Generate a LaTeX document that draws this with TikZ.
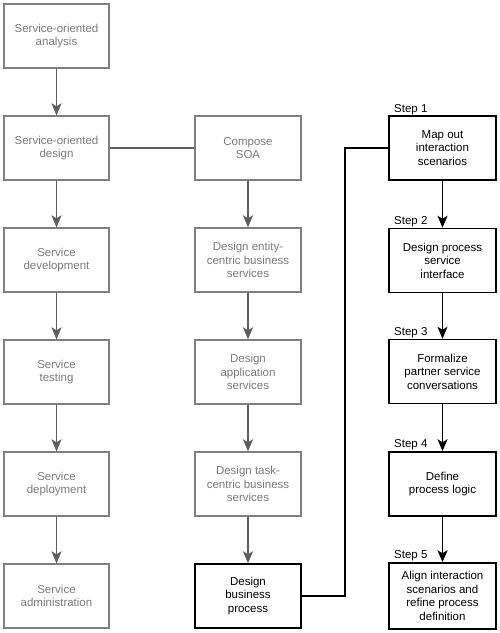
\documentclass[tikz,border=0pt]{standalone}
\usepackage{fontspec}
\setmainfont{Liberation Sans}
\usetikzlibrary{arrows.meta}
\definecolor{gbox}{HTML}{808080}
\definecolor{gtext}{HTML}{7A7A7A}
\definecolor{garrow}{HTML}{5E5E5E}
\tikzset{
  graybox/.style={draw=gbox, line width=1.4pt, text=gtext, minimum width=105pt, minimum height=64pt, inner sep=0pt, align=center, font=\fontsize{11.5pt}{13.6pt}\selectfont},
  blackbox/.style={draw=black, line width=1.5pt, text=black, minimum width=107pt, minimum height=64pt, inner sep=0pt, align=center, font=\fontsize{11.5pt}{13.6pt}\selectfont},
  grayarrow/.style={draw=garrow, line width=1.4pt, -{Stealth[length=12pt, width=10pt, inset=3pt]}},
  blackarrow/.style={draw=black, line width=1.5pt, -{Stealth[length=12pt, width=10pt, inset=3pt]}},
  grayline/.style={draw=garrow, line width=1.4pt},
  blackline/.style={draw=black, line width=1.5pt},
  steplabel/.style={anchor=base west, inner sep=0pt, font=\fontsize{11.5pt}{13.6pt}\selectfont}
}
\begin{document}
\begin{tikzpicture}[x=1pt, y=-1pt]
\useasboundingbox (0,0) rectangle (500,633);
% left column
\node[graybox] (l1) at (56.5,36) {Service-oriented\\analysis};
\node[graybox] (l2) at (56.5,148) {Service-oriented\\design};
\node[graybox] (l3) at (56.5,260) {Service\\development};
\node[graybox] (l4) at (56.5,372) {Service\\testing};
\node[graybox] (l5) at (56.5,484) {Service\\deployment};
\node[graybox] (l6) at (56.5,596) {Service\\administration};
% middle column
\node[graybox, minimum width=106pt] (m1) at (248,148) {Compose\\SOA};
\node[graybox, minimum width=106pt] (m2) at (248,260) {Design entity-\\centric business\\services};
\node[graybox, minimum width=106pt] (m3) at (248,372) {Design\\application\\services};
\node[graybox, minimum width=106pt] (m4) at (248,484) {Design task-\\centric business\\services};
\node[blackbox, minimum width=106pt] (m5) at (248,596) {Design\\business\\process};
% right column
\node[blackbox] (r1) at (442.5,148) {Map out\\interaction\\scenarios};
\node[blackbox] (r2) at (442.5,260.5) {Design process\\service\\interface};
\node[blackbox] (r3) at (442.5,371.5) {Formalize\\partner service\\conversations};
\node[blackbox] (r4) at (442.5,484) {Define\\process logic};
\node[blackbox, minimum height=66pt] (r5) at (442.5,596) {Align interaction\\scenarios and\\refine process\\definition};
% step labels
\node[steplabel] (s1) at (394,112) {Step 1};
\node[steplabel] (s2) at (394,224) {Step 2};
\node[steplabel] (s3) at (394,335) {Step 3};
\node[steplabel] (s4) at (394,447) {Step 4};
\node[steplabel] (s5) at (394,558) {Step 5};
% arrows
\draw[grayarrow] (l1) -- (l2);
\draw[grayarrow] (l2) -- (l3);
\draw[grayarrow] (l3) -- (l4);
\draw[grayarrow] (l4) -- (l5);
\draw[grayarrow] (l5) -- (l6);
\draw[grayline] (l2) -- (m1);
\draw[grayarrow] (m1) -- (m2);
\draw[grayarrow] (m2) -- (m3);
\draw[grayarrow] (m3) -- (m4);
\draw[grayarrow] (m4) -- (m5);
\draw[blackarrow] (r1) -- (r2);
\draw[blackarrow] (r2) -- (r3);
\draw[blackarrow] (r3) -- (r4);
\draw[blackarrow] (r4) -- (r5);
\coordinate (bend) at (345,596);
\draw[blackline] (m5.east) -- (bend) |- (r1.west);
\end{tikzpicture}
\end{document}
